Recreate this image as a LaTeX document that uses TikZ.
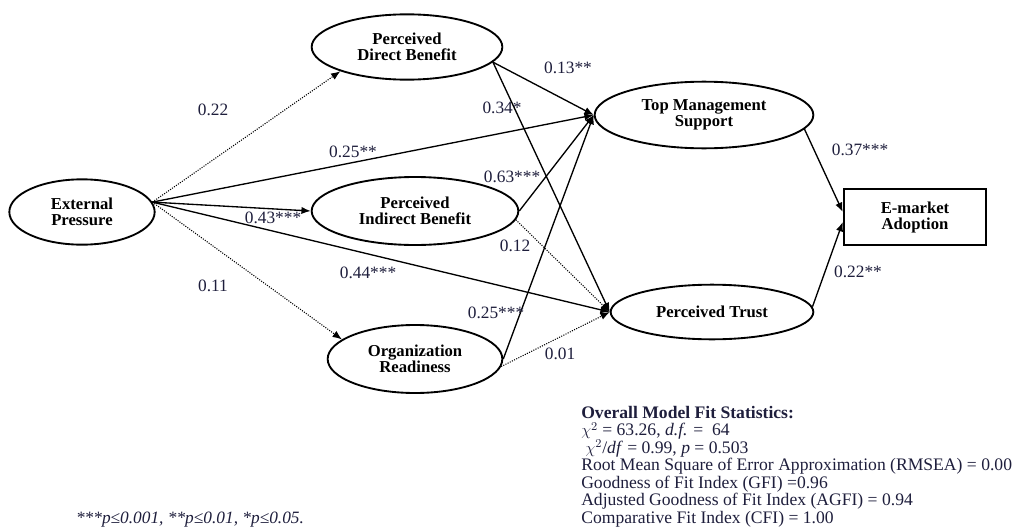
\documentclass[tikz,border=0pt]{standalone}
\usepackage{fontspec}
\setmainfont{Liberation Serif}
\usetikzlibrary{shapes.geometric, arrows.meta}
\definecolor{labcol}{RGB}{30,30,60}
\begin{document}
\begin{tikzpicture}[>={Latex[length=7pt,width=5.5pt]}, x=0.75pt, y=-0.75pt,
  construct/.style={draw, ellipse, line width=1.4pt, align=center,
    font=\fontsize{12.5}{12}\selectfont\bfseries, inner sep=0pt},
  outcome/.style={draw, rectangle, line width=1.4pt, align=center,
    font=\fontsize{12.5}{12}\selectfont\bfseries,
    minimum width=107pt, minimum height=42pt},
  path/.style={->, line width=1pt},
  weak/.style={->, line width=0.8pt, densely dotted},
  coef/.style={font=\fontsize{13}{14}\selectfont, text=labcol}]
\useasboundingbox (0,0) rectangle (1012,528);
% Constructs
\node[construct, minimum width=109pt, minimum height=49pt] (ep) at (82,212) {External\\Pressure};
\node[construct, minimum width=143pt, minimum height=49pt] (pdb) at (407,47) {Perceived\\Direct Benefit};
\node[construct, minimum width=155pt, minimum height=51pt] (pib) at (415,211) {Perceived\\Indirect Benefit};
\node[construct, minimum width=131pt, minimum height=51pt] (orr) at (415,359) {Organization\\Readiness};
\node[construct, minimum width=164pt, minimum height=50pt] (tms) at (704,115) {Top Management\\Support};
\node[construct, minimum width=152pt, minimum height=41pt] (pt) at (712,312) {Perceived Trust};
\node[outcome] (ema) at (915,217) {E-market\\Adoption};
% From External Pressure
\draw[weak] (ep.8) -- (pdb.200);
\draw[path] (ep.8) -- (tms.west);
\draw[path] (ep.8) -- (pib.west);
\draw[path] (ep.8) -- (pt.west);
\draw[weak] (ep.8) -- (orr.165);
% Into Top Management Support and Perceived Trust
\draw[path] (pdb.-10) -- (tms.west);
\draw[path] (pdb.-10) -- (pt.west);
\draw[path] (pib.east) -- (tms.west);
\draw[weak] (pib.-5) -- (pt.west);
\draw[path] (orr.east) -- (tms.west);
\draw[weak] (orr.-5) -- (pt.west);
% Into E-market Adoption
\draw[path] (tms.-8) -- (ema.176);
\draw[path] (pt.3) -- (ema.184);
% Path coefficients
\node[coef] (c1) at (213,110) {0.22};
\node[coef] (c2) at (353,152) {0.25**};
\node[coef] (c3) at (273,218) {0.43***};
\node[coef] (c4) at (368,273) {0.44***};
\node[coef] (c5) at (213,286) {0.11};
\node[coef] (c6) at (568,68) {0.13**};
\node[coef] (c7) at (502,108) {0.34*};
\node[coef] (c8) at (512,177) {0.63***};
\node[coef] (c9) at (515,246) {0.12};
\node[coef] (c10) at (496,313) {0.25***};
\node[coef] (c11) at (560,354) {0.01};
\node[coef] (c12) at (860,150) {0.37***};
\node[coef] (c13) at (858,272) {0.22**};
% Fit statistics and note
\node[anchor=north west, align=left, inner sep=0pt, text=labcol,
  font=\fontsize{13.2}{13.1}\selectfont] (fit) at (581,406)
  {\textbf{Overall Model Fit Statistics:}\\
   $\chi^2$ = 63.26, \textit{d.f.} =\ \ 64\\
   \ $\chi^2$/\textit{df}\ = 0.99, \textit{p} = 0.503\\
   Root Mean Square of Error Approximation (RMSEA) = 0.00\\
   Goodness of Fit Index (GFI) =0.96\\
   Adjusted Goodness of Fit Index (AGFI) = 0.94\\
   Comparative Fit Index (CFI) = 1.00};
\node[coef, font=\fontsize{13}{14}\selectfont\itshape] (note) at (190,520) {***p≤0.001, **p≤0.01, *p≤0.05.};
\end{tikzpicture}
\end{document}
